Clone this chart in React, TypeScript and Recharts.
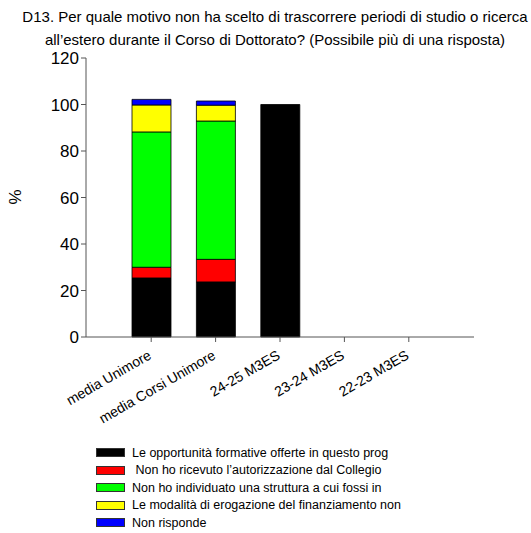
import { BarChart, Bar, XAxis, YAxis } from 'recharts';

const categories = ['media Unimore', 'media Corsi Unimore', '24-25 M3ES', '23-24 M3ES', '22-23 M3ES'];
const opportunita = [25.4, 23.7, 100, 0, 0];
const autorizzazione = [4.6, 9.7, 0, 0, 0];
const struttura = [58.2, 59.5, 0, 0, 0];
const finanziamento = [11.6, 6.8, 0, 0, 0];
const nonRisponde = [2.4, 1.8, 0, 0, 0];
const yTicks = [0, 20, 40, 60, 80, 100, 120];

const series = [
  { key: 'opp', name: 'Le opportunità formative offerte in questo prog', color: '#000000', values: opportunita },
  { key: 'aut', name: ' Non ho ricevuto l’autorizzazione dal Collegio', color: '#ff0000', values: autorizzazione },
  { key: 'str', name: 'Non ho individuato una struttura a cui fossi in', color: '#00ff00', values: struttura },
  { key: 'fin', name: 'Le modalità di erogazione del finanziamento non', color: '#ffff00', values: finanziamento },
  { key: 'nr', name: 'Non risponde', color: '#0000ff', values: nonRisponde },
];

const data = categories.map((c, i) => {
  const row: any = { cat: c };
  series.forEach(s => { row[s.key] = s.values[i] });
  return row;
});

const font = '"Liberation Sans", Arial, sans-serif';
const axisColor = '#555';

function XTick({ x, y, payload }: any) {
  return (
    <g transform={`translate(${x + 1},${y + 14})`}>
      <text textAnchor='end' transform='rotate(-30)' fontSize={14} fill='#000' fontFamily={font}>
        {payload.value}
      </text>
    </g>
  );
}

export default function App() {
  return (
    <div style={{ position: 'absolute', left: 0, top: 0, width: 531, height: 533, background: 'white' }}>
      <div style={{ position: 'absolute', left: 0, top: 5, width: 550, textAlign: 'center',
        fontFamily: font, fontSize: 15, lineHeight: '23px', color: '#000' }}>
        D13. Per quale motivo non ha scelto di trascorrere periodi di studio o ricerca<br />
        all’estero durante il Corso di Dottorato? (Possibile più di una risposta)
      </div>
      <div style={{ position: 'absolute', left: 8, top: 187, fontFamily: font, fontSize: 17,
        transform: 'rotate(-90deg)', color: '#000' }}>%</div>
      <BarChart width={531} height={533} data={data}
        margin={{ top: 58, right: 57, left: 46, bottom: 136 }}>
        <XAxis dataKey='cat' interval={0} height={60} padding={{ left: 33, right: 33 }}
          stroke={axisColor} tickLine={{ stroke: axisColor }} tickSize={5} tick={<XTick />} />
        <YAxis domain={[0, 120]} ticks={yTicks} width={40} stroke={axisColor}
          tickSize={5} tick={{ fill: '#000', fontSize: 17, fontFamily: font }} />
        <XAxis xAxisId='top' orientation='top' dataKey='cat' height={0} tick={false}
          tickLine={false} stroke={axisColor} />
        <YAxis yAxisId='right' orientation='right' domain={[0, 120]} width={0} tick={false}
          tickLine={false} stroke={axisColor} />
        {series.map(s => (
          <Bar key={s.key} dataKey={s.key} name={s.name} stackId='a' fill={s.color}
            stroke='#000' strokeWidth={0.8} barSize={39} isAnimationActive={false} />
        ))}
      </BarChart>
      <div style={{ position: 'absolute', left: 96, top: 444, fontFamily: font, fontSize: 12.5, color: '#000' }}>
        {series.map(s => (
          <div key={s.key} style={{ display: 'flex', alignItems: 'center', height: 17.5 }}>
            <span style={{ display: 'inline-block', width: 27, height: 7, background: s.color,
              border: '1px solid #333', marginRight: 7 }} />
            <span style={{ whiteSpace: 'pre' }}>{s.name}</span>
          </div>
        ))}
      </div>
    </div>
  );
}
